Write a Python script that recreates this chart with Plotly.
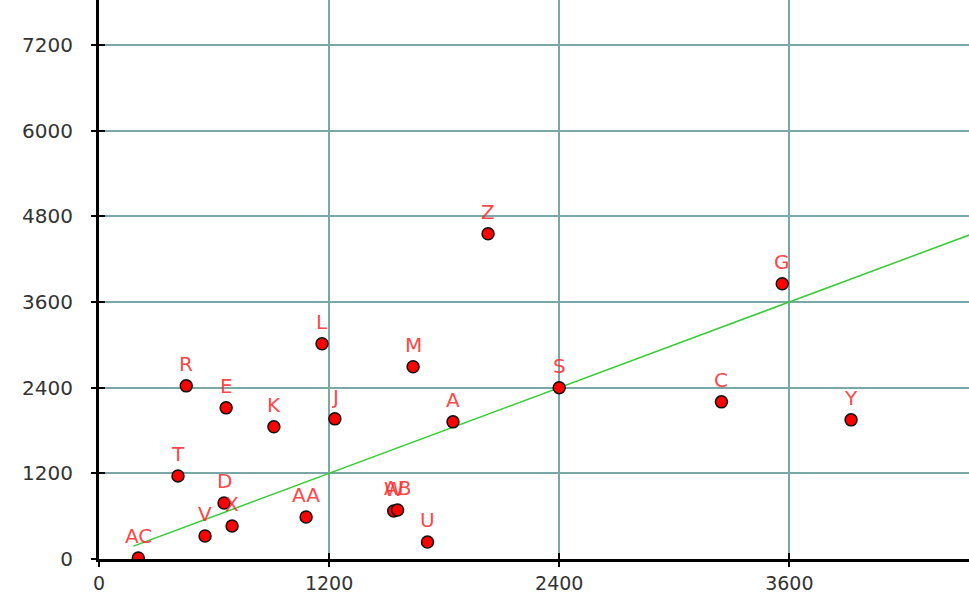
import plotly.graph_objects as go

names = ["AC", "T", "R", "D", "V", "X", "E", "K", "L", "J", "AA", "W", "AB", "U",
         "M", "A", "Z", "S", "C", "G", "Y"]
x_vals = [205, 412, 455, 652, 553, 694, 663, 912, 1163, 1230, 1080, 1537, 1557, 1713,
          1638, 1846, 2029, 2400, 3246, 3563, 3922]
y_vals = [14, 1164, 2425, 785, 322, 463, 2117, 1851, 3014, 1963, 589, 673, 687, 238,
          2692, 1921, 4556, 2400, 2201, 3855, 1949]
line_x = [180, 4700]
line_y = [180, 4700]
tick_vals = [0, 1200, 2400, 3600, 4800, 6000, 7200]

X_RANGE = [0, 4537]
Y_RANGE = [0, 7830]

FONT = "DejaVu Sans, Liberation Sans, Arial"

fig = go.Figure()
fig.add_trace(go.Scatter(x=line_x, y=line_y, mode="lines",
                         line=dict(color="#33cc33", width=1.5),
                         hoverinfo="skip", showlegend=False))
fig.add_trace(go.Scatter(x=x_vals, y=y_vals, mode="markers",
                         marker=dict(size=12, color="#ff0000",
                                     line=dict(color="#111111", width=1.5)),
                         text=names, showlegend=False))

for n, xv, yv in zip(names, x_vals, y_vals):
    fig.add_annotation(x=xv, y=yv, text=n, showarrow=False, yshift=22,
                       font=dict(family=FONT, size=20,
                                 color="rgba(255,45,45,0.9)"))

axis_common = dict(
    showgrid=True, gridcolor="#7aa8a8", gridwidth=1.5,
    zeroline=False, showline=True, linecolor="black", linewidth=3,
    ticks="outside", ticklen=5, tickwidth=2, tickcolor="black",
    tickvals=tick_vals, ticktext=[str(t) for t in tick_vals],
    automargin=False,
)

fig.update_layout(
    width=969, height=596,
    margin=dict(l=99, r=0, t=0, b=37),
    paper_bgcolor="white", plot_bgcolor="white",
    xaxis=dict(range=X_RANGE, ticklabelstandoff=0,
               tickfont=dict(family=FONT, size=19, color="#333333"), **axis_common),
    yaxis=dict(range=Y_RANGE, ticklabelstandoff=14,
               tickfont=dict(family=FONT, size=20, color="#333333"), **axis_common),
    xaxis2=dict(range=X_RANGE, overlaying="x", anchor="y", ticks="inside",
                ticklen=6, tickwidth=2, tickcolor="black", tickvals=tick_vals,
                showticklabels=False, showgrid=False, zeroline=False, side="bottom"),
    yaxis2=dict(range=Y_RANGE, overlaying="y", anchor="x", ticks="inside",
                ticklen=6, tickwidth=2, tickcolor="black", tickvals=tick_vals,
                showticklabels=False, showgrid=False, zeroline=False, side="left"),
)
# invisible trace to activate the secondary axes (inner tick halves)
fig.add_trace(go.Scatter(x=[None], y=[None], xaxis="x2", yaxis="y2",
                         showlegend=False, hoverinfo="skip"))

fig.write_html("out.html", config={"displayModeBar": False},
               post_script="document.body.style.margin='0';")
